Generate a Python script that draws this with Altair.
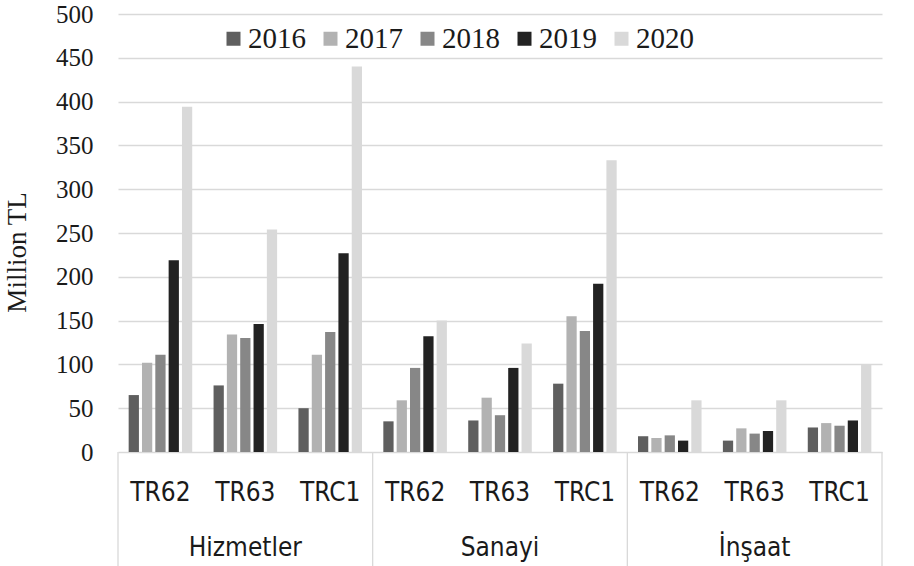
import altair as alt
import pandas as pd

# Groups along the x axis: sector -> region
sectors = ["Hizmetler", "Sanayi", "İnşaat"]
regions = ["TR62", "TR63", "TRC1"]
years = ["2016", "2017", "2018", "2019", "2020"]

# Values (million TL) per year, in group order:
# Hizmetler TR62/TR63/TRC1, Sanayi TR62/TR63/TRC1, İnşaat TR62/TR63/TRC1
v2016 = [65, 76, 50, 35, 36, 78, 18, 13, 28]
v2017 = [102, 134, 111, 59, 62, 155, 16, 27, 33]
v2018 = [111, 130, 137, 96, 42, 138, 19, 21, 30]
v2019 = [219, 146, 227, 132, 96, 192, 13, 24, 36]
v2020 = [394, 254, 440, 150, 124, 333, 59, 59, 100]

year_colors = ["#5f5f5f", "#b2b2b2", "#878787", "#222222", "#d9d9d9"]

keys = [f"{s}|{r}" for s in sectors for r in regions]
series = dict(zip(years, [v2016, v2017, v2018, v2019, v2020]))

rows = []
for y, vals in series.items():
    for k, v in zip(keys, vals):
        rows.append({"key": k, "year": y, "value": v})
df = pd.DataFrame(rows)

W, H = 764, 438
SERIF = "Liberation Serif"
SANS = "Liberation Sans Narrow, DejaVu Sans Condensed, sans-serif"
TEXT = "#1a1a1a"
GRID = "#d9d9d9"

x_enc = alt.X(
    "key:N",
    sort=keys,
    scale=alt.Scale(domain=keys, paddingInner=0, paddingOuter=0),
    axis=alt.Axis(
        title=None,
        labelExpr="split(datum.value, '|')[1]",
        labelAngle=0,
        labelFont=SANS,
        labelFontSize=26,
        labelColor=TEXT,
        labelPadding=27,
        domain=False,
        ticks=False,
        grid=False,
    ),
)

bars = alt.Chart(df).mark_bar().encode(
    x=x_enc,
    xOffset=alt.XOffset("year:N", sort=years,
                        scale=alt.Scale(paddingInner=0.23, paddingOuter=0.8)),
    y=alt.Y(
        "value:Q",
        scale=alt.Scale(domain=[0, 500]),
        axis=alt.Axis(
            title="Million TL",
            values=list(range(0, 501, 50)),
            labelFont=SERIF,
            labelFontSize=25,
            labelColor=TEXT,
            labelPadding=25,
            domain=False,
            ticks=False,
            gridColor=GRID,
            gridWidth=1.3,
            titleFont=SERIF,
            titleFontSize=27,
            titleFontWeight="normal",
            titleColor=TEXT,
            titleAngle=270,
            titleX=-101,
            titleY=238,
            titleAlign="center",
            titleBaseline="middle",
        ),
    ),
    color=alt.Color(
        "year:N",
        sort=years,
        scale=alt.Scale(domain=years, range=year_colors),
        legend=alt.Legend(
            title=None,
            orient="none",
            legendX=101,
            legendY=10,
            direction="horizontal",
            symbolType="square",
            symbolSize=196,
            symbolStrokeWidth=0,
            symbolOpacity=1,
            labelFont=SERIF,
            labelFontSize=29,
            labelColor=TEXT,
            labelOffset=0,
            columnPadding=10,
            padding=0,
        ),
    ),
)

# Vertical separators between sectors in the category area
sep_df = pd.DataFrame({"key": [f"{s}|{regions[0]}" for s in sectors]})
separators = alt.Chart(sep_df).mark_rule(color=GRID, strokeWidth=1.3).encode(
    x=alt.X("key:N", sort=keys, bandPosition=0),
    y=alt.value(H),
    y2=alt.value(H + 114),
)
right_edge = alt.Chart(sep_df.head(1)).mark_rule(color=GRID, strokeWidth=1.3).encode(
    x=alt.value(W),
    y=alt.value(H),
    y2=alt.value(H + 114),
)

# Sector names centred under their three regions
sec_df = pd.DataFrame({"key": [f"{s}|{regions[1]}" for s in sectors], "sector": sectors})
sector_labels = alt.Chart(sec_df).mark_text(
    font=SANS, fontSize=26, color=TEXT, baseline="middle", align="center"
).encode(
    x=alt.X("key:N", sort=keys, bandPosition=0.5),
    y=alt.value(H + 96),
    text="sector:N",
)

chart = (
    alt.layer(bars, separators, right_edge, sector_labels)
    .properties(
        width=W,
        height=H,
        autosize=alt.AutoSizeParams(type="none"),
        padding={"left": 118, "top": 14, "right": 32, "bottom": 114},
        background="white",
    )
    .configure_view(stroke=None)
)

chart.save("out.html", embed_options={"renderer": "svg", "actions": False})
